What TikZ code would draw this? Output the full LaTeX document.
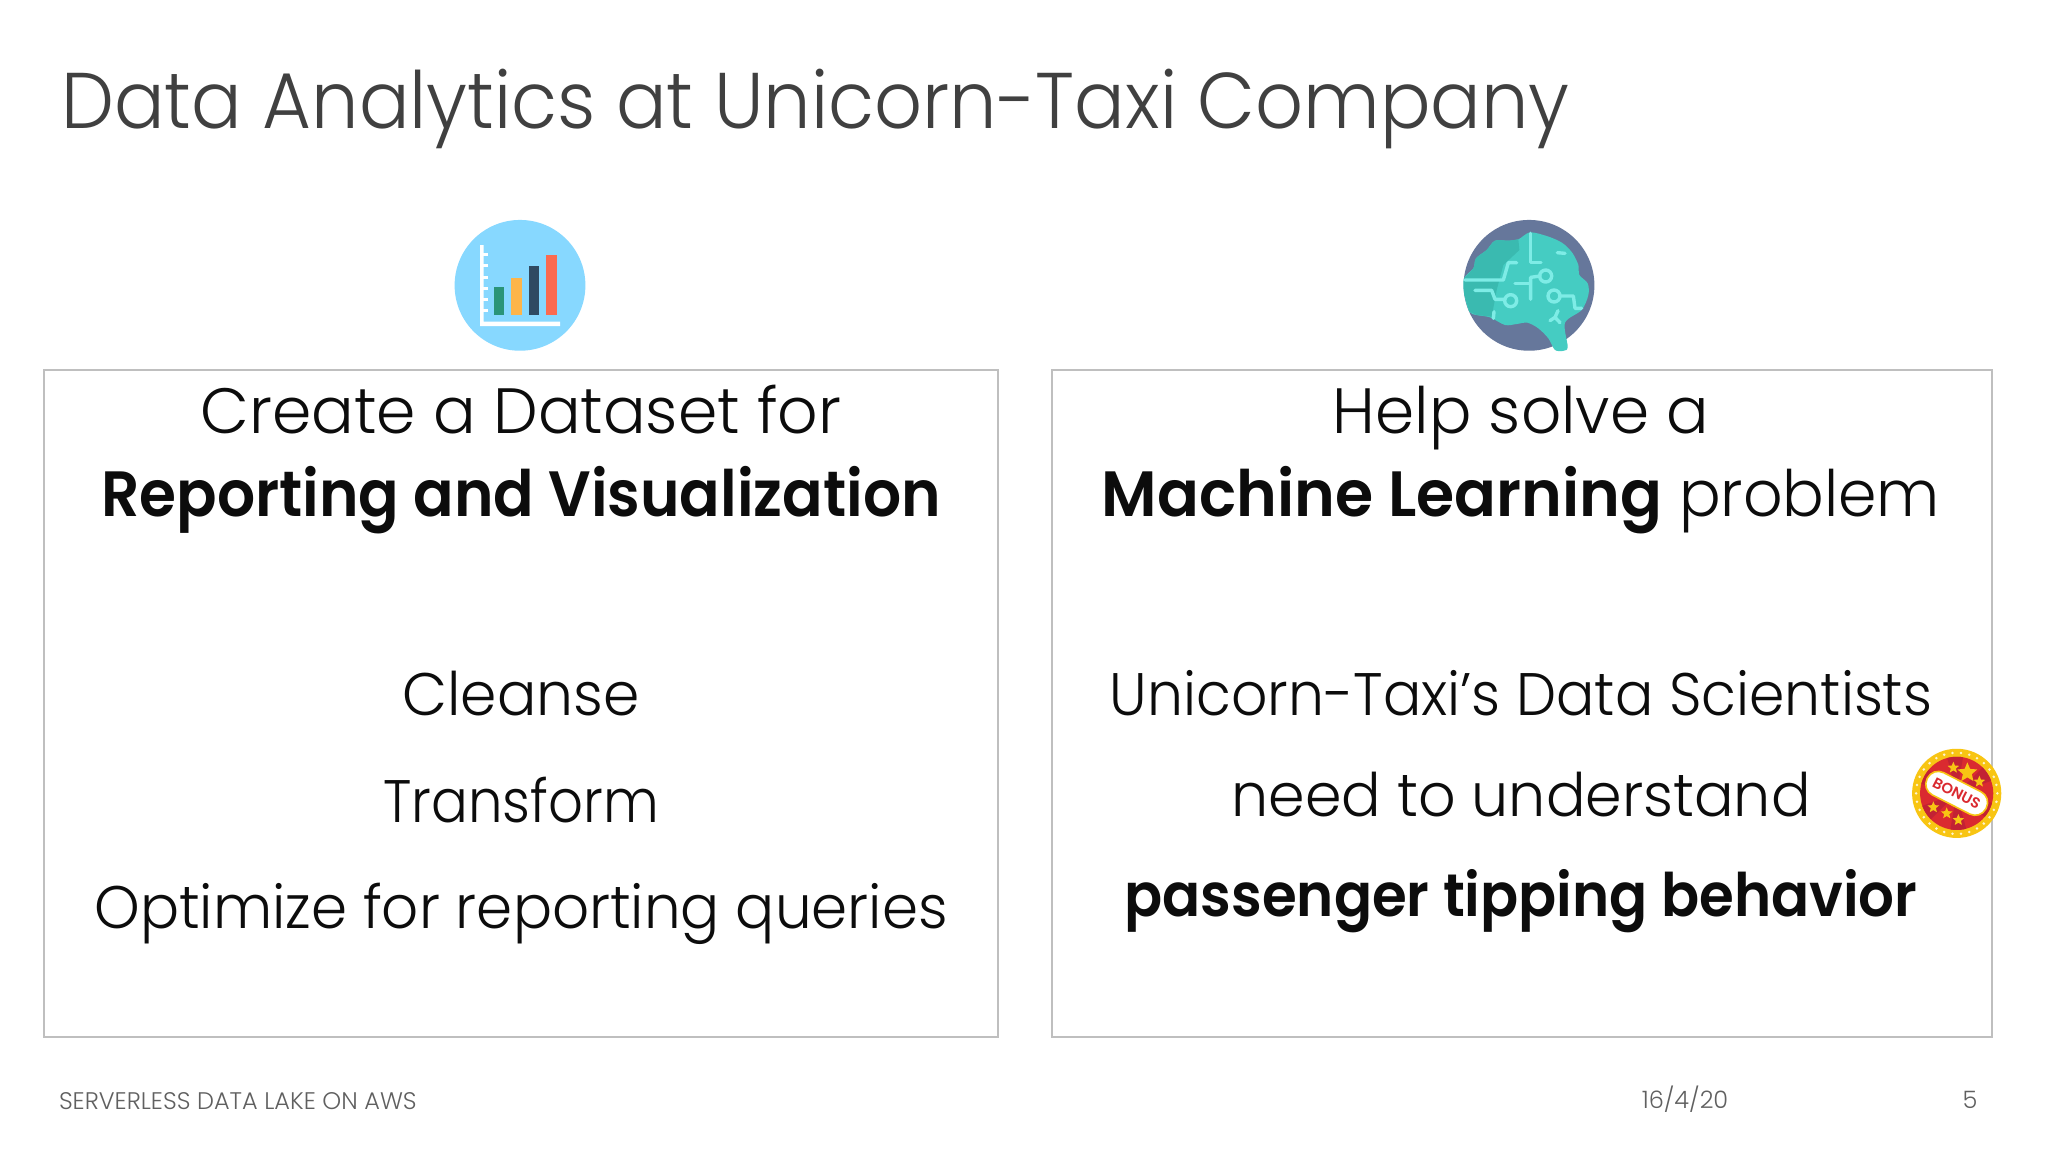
\documentclass[tikz,border=0pt]{standalone}
\usepackage{fontspec}
\setmainfont{Poppins}[UprightFont=* Light,BoldFont=* SemiBold]
\definecolor{titlec}{HTML}{404040}
\definecolor{bodyc}{HTML}{0C0C0C}
\definecolor{footc}{HTML}{606060}
\definecolor{boxc}{HTML}{BFBFBF}
\definecolor{skyc}{HTML}{87D8FF}
\definecolor{greenb}{HTML}{2A9478}
\definecolor{orangeb}{HTML}{FDB54A}
\definecolor{navyb}{HTML}{2F4A62}
\definecolor{redb}{HTML}{FB6A50}
\definecolor{slatec}{HTML}{66779B}
\definecolor{braind}{HTML}{3ABAB0}
\definecolor{brainl}{HTML}{45CCC2}
\definecolor{brainw}{HTML}{7EECE6}
\definecolor{bonusy}{HTML}{F8C513}
\definecolor{bonusr}{HTML}{DA2A30}
\definecolor{bonusd}{HTML}{C22234}
\newcommand{\fs}[1]{\fontsize{#1}{#1}\selectfont}
\newcommand{\hs}[2]{\scalebox{#1}[1]{#2}}
\newcommand{\mystar}[3]{\fill[bonusy,shift={(#1,#2)}] (90:#3) -- (126:#3*0.45) -- (162:#3) -- (198:#3*0.45) -- (234:#3) -- (270:#3*0.45) -- (306:#3) -- (342:#3*0.45) -- (18:#3) -- (54:#3*0.45) -- cycle;}
\tikzset{
  lbl/.style={anchor=base,inner sep=0pt,outer sep=0pt,text=bodyc},
  foot/.style={anchor=base,inner sep=0pt,outer sep=0pt,text=footc},
  panel/.style={draw=boxc,line width=1pt,fill=white},
  wire/.style={draw=brainw,line width=1.7pt,line cap=round,line join=round},
}
\begin{document}
\begin{tikzpicture}[x=0.5pt,y=-0.5pt]
\useasboundingbox (0,0) rectangle (2048,1152);
\fill[white] (0,0) rectangle (2048,1152);
\node[anchor=base west,inner sep=0pt,text=titlec] (title) at (61,128) {\fs{39.5}\hs{0.949}{Data Analytics at Unicorn-Taxi Company}};
% panels
\draw[panel] (44,370) rectangle (998,1037);
\draw[panel] (1052,370) rectangle (1992,1037);
% left text
\node[lbl] (l1) at (521,433.5) {\fs{32}\hs{0.988}{Create a Dataset for}};
\node[lbl] (l2) at (521,516) {\fs{32}\hs{0.935}{\bfseries Reporting and Visualization}};
\node[lbl] (l3) at (521,715.5) {\fs{30}\hs{0.973}{Cleanse}};
\node[lbl] (l4) at (521,822) {\fs{30}\hs{0.909}{Transform}};
\node[lbl] (l5) at (521,928) {\fs{30}\hs{0.966}{Optimize for reporting queries}};
% right text
\node[lbl] (r1) at (1521,433.5) {\fs{32}\hs{0.983}{Help solve a}};
\node[lbl] (r2) at (1521,516) {\fs{32}\hs{0.965}{{\bfseries Machine Learning} problem}};
\node[lbl] (r3) at (1521,715.5) {\fs{30}\hs{0.947}{Unicorn-Taxi’s Data Scientists}};
\node[lbl] (r4) at (1521,816.5) {\fs{30}\hs{0.978}{need to understand}};
\node[lbl] (r5) at (1521,916) {\fs{30}\hs{0.938}{\bfseries passenger tipping behavior}};
% footer
\node[foot,anchor=base west] (f1) at (59,1109) {\fs{12}SERVERLESS DATA LAKE ON AWS};
\node[foot] (f2) at (1685,1108) {\fs{12}16/4/20};
\node[foot] (f3) at (1970,1108) {\fs{12}5};
% chart icon
\begin{scope}[shift={(420,200)},x=0.16667pt,y=-0.16667pt]
  \fill[skyc] (300,256) circle[radius=32.7pt];
  \fill[white] (180,135) rectangle (191,378) (180,365) rectangle (420,378);
  \foreach \ty in {163,197,232,265,298,332} \fill[white] (190,\ty-5) rectangle (204,\ty+5);
  \fill[greenb] (222,260) rectangle (253,345);
  \fill[orangeb] (274,233) rectangle (305,345);
  \fill[navyb] (326,198) rectangle (357,345);
  \fill[redb] (378,165) rectangle (410,345);
\end{scope}
% brain icon
\begin{scope}[shift={(1440,200)},x=0.16667pt,y=-0.16667pt]
  \fill[slatec] (267,256) circle[radius=32.7pt];
  \fill[brainl] plot[smooth cycle,tension=0.5] coordinates {(72,235) (100,205) (108,175) (140,150) (165,122) (205,122) (235,118) (270,97) (320,108) (355,122) (375,135) (398,160) (415,195) (418,225) (443,250) (445,285) (425,330) (375,368) (383,440) (372,452) (345,450) (325,415) (295,385) (262,368) (230,372) (195,375) (150,352) (110,345) (88,335) (72,280)};
  \fill[braind] plot[smooth,tension=0.5] coordinates {(72,235) (100,205) (108,175) (140,150) (165,122) (205,122) (235,118)} -- (238,150) -- (190,195) -- (170,270) -- (155,350) -- (110,345) -- (88,335) -- (72,280) -- cycle;
  \draw[wire] (75,240) -- (190,240) -- (205,188) -- (230,188);
  \draw[wire] (272,100) -- (272,187) -- (303,187);
  \draw[wire] (105,271) -- (155,271) -- (165,298) -- (195,298);
  \draw[wire] (212,302) circle[radius=3pt];
  \draw[wire] (225,250) -- (270,250);
  \draw[wire] (272,298) -- (272,232) -- (300,228);
  \draw[wire] (317,228) circle[radius=3pt];
  \draw[wire] (342,288) circle[radius=3pt];
  \draw[wire] (358,288) -- (400,288) -- (405,325) -- (425,325);
  \draw[wire] (352,158) -- (375,160);
  \draw[wire] (354,332) -- (345,352) -- (330,362);
  \draw[wire] (345,352) -- (360,368);
  \draw[wire] (162,335) -- (160,355);
\end{scope}
% bonus badge
\begin{scope}[shift={(1890,730)},x=0.16667pt,y=-0.16667pt]
  \fill[bonusy] (200,190) circle[radius=22.3pt];
  \fill[bonusr] (200,190) circle[radius=18.3pt];
  \begin{scope}
    \clip (200,190) circle[radius=18.3pt];
    \foreach \a in {20,80,140,200,260,320}
      \fill[bonusd,shift={(200,190)}] (0,0) -- (\a:20pt) -- (\a+25:20pt) -- cycle;
  \end{scope}
  \foreach \a in {0,12,...,348}
    \fill[white!80!bonusy,shift={(200,190)}] (\a:20.3pt) circle[radius=0.7pt];
  \mystar{232}{128}{5.2pt}
  \mystar{190}{113}{3pt}
  \mystar{268}{155}{3pt}
  \mystar{130}{232}{3pt}
  \mystar{170}{250}{3pt}
  \mystar{205}{270}{3pt}
  \node[draw=bonusy,fill=white,line width=0.8pt,rounded corners=6pt,minimum width=33pt,minimum height=12.5pt,inner sep=0pt,rotate=-27,text=bonusr] (bonus) at (200,190) {\fs{7.4}\bfseries BONUS};
\end{scope}
\end{tikzpicture}
\end{document}
